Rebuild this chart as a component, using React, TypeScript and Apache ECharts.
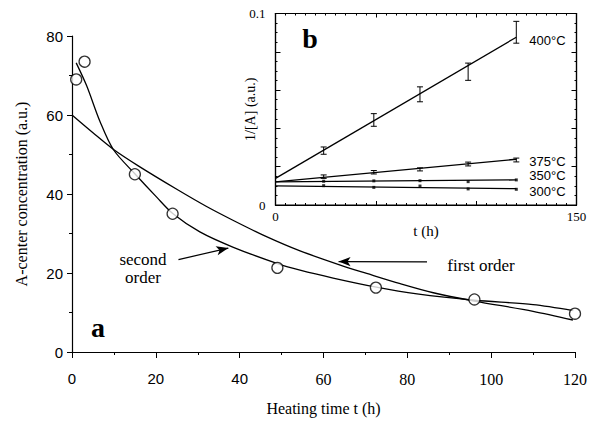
import React, { useEffect, useRef } from "react";
import * as echarts from "echarts";

// ---- main panel (a) ----
const measuredT = [1, 3, 15, 24, 49, 72.5, 96, 120];
const measuredA = [69, 73.5, 45, 35, 21.3, 16.3, 13.3, 9.7];

const firstOrderT = [0, 5, 10, 16, 25, 32, 38.5, 46, 54.4, 64, 70.3, 78.3, 86.2, 96, 110, 119.5];
const firstOrderA = [60, 55.5, 51.2, 47, 41.2, 36.9, 33.3, 29.4, 25.6, 22.0, 19.9, 17.3, 15.0, 12.9, 10.3, 8.1];

const secondOrderT = [1, 3.5, 6.7, 9.9, 15.1, 20.2, 24.1, 30.5, 38.5, 49.2, 54.4, 62.3, 72.6, 82.3, 96, 110, 119.6];
const secondOrderA = [73.2, 67.4, 58.3, 51.2, 45, 39.2, 35.0, 30.4, 26.5, 22.3, 20.7, 18.7, 16.4, 14.7, 13.1, 12.0, 10.5];

const mainXTicks = [0, 20, 40, 60, 80, 100, 120];
const mainYTicks = [0, 20, 40, 60, 80];

// arrows (data coordinates of panel a)
const secondArrow = [[25.4, 23.4], [37.3, 26.3]];
const firstArrow = [[84.7, 22.8], [63.6, 22.9]];

// ---- inset panel (b) ----
const insetTimes = [24, 49, 72, 96, 120];
const fit400 = [[0, 0.0139], [120, 0.0876]];
const pts400 = [0.0284, 0.0444, 0.0578, 0.0696, 0.0902];
const err400 = [0.0019, 0.0033, 0.0039, 0.0045, 0.0057];
const fit375 = [[0, 0.0121], [120, 0.0239]];
const pts375 = [0.0148, 0.0171, 0.0186, 0.0214, 0.0235];
const err375 = [0.0009, 0.0009, 0.0008, 0.001, 0.001];
const fit350 = [[0, 0.0121], [120, 0.0131]];
const pts350 = [0.0124, 0.0126, 0.0127, 0.0122, 0.0131];
const fit300 = [[0, 0.01], [120, 0.0085]];
const pts300 = [0.0101, 0.0092, 0.0099, 0.0084, 0.0082];

const SERIF = "Liberation Serif";
const SANS = "Liberation Sans";

function errorBarSeries(vals: number[], errs: number[]) {
  return {
    type: "custom",
    xAxisIndex: 1,
    yAxisIndex: 1,
    data: insetTimes.map((t, i) => [t, vals[i], errs[i]]),
    encode: { x: 0, y: 1 },
    silent: true,
    z: 5,
    renderItem: (params: any, api: any) => {
      const x = api.value(0);
      const y = api.value(1);
      const e = api.value(2);
      const top = api.coord([x, y + e]);
      const bot = api.coord([x, y - e]);
      const w = 3;
      const st = { stroke: "#000", lineWidth: 1 };
      return {
        type: "group",
        children: [
          { type: "line", shape: { x1: top[0], y1: top[1], x2: bot[0], y2: bot[1] }, style: st },
          { type: "line", shape: { x1: top[0] - w, y1: top[1], x2: top[0] + w, y2: top[1] }, style: st },
          { type: "line", shape: { x1: bot[0] - w, y1: bot[1], x2: bot[0] + w, y2: bot[1] }, style: st },
        ],
      };
    },
  };
}

function fitSeries(fit: number[][], label: string, offset: number[]) {
  return {
    type: "line",
    xAxisIndex: 1,
    yAxisIndex: 1,
    data: fit,
    symbol: "none",
    lineStyle: { color: "#000", width: 1.3 },
    silent: true,
    endLabel: {
      show: true,
      formatter: label,
      fontFamily: SANS,
      fontSize: 13,
      color: "#000",
      distance: 13,
      offset,
    },
  };
}

function dotSeries(vals: number[]) {
  return {
    type: "scatter",
    xAxisIndex: 1,
    yAxisIndex: 1,
    data: insetTimes.map((t, i) => [t, vals[i]]),
    symbol: "rect",
    symbolSize: 3,
    itemStyle: { color: "#000" },
    silent: true,
  };
}

export default function App() {
  const ref = useRef<HTMLDivElement>(null);
  useEffect(() => {
    if (!ref.current) return;
    const chart = echarts.init(ref.current, null, { renderer: "svg" });
    const axisBlack = { lineStyle: { color: "#000", width: 1.2 } };
    chart.setOption({
      animation: false,
      backgroundColor: "#fff",
      grid: [
        { left: 72, right: 27, top: 36, bottom: 64 },
        { left: 275.5, right: 25.5, top: 13.5, bottom: 216, show: true, borderColor: "#000", borderWidth: 1.2, backgroundColor: "rgba(255,255,255,0)" },
      ],
      xAxis: [
        {
          gridIndex: 0,
          type: "value",
          min: mainXTicks[0],
          max: mainXTicks[mainXTicks.length - 1],
          interval: 20,
          axisLine: { onZero: false, ...axisBlack },
          axisTick: { show: true, length: 6, lineStyle: { color: "#000" } },
          minorTick: { show: true, splitNumber: 2, length: 3, lineStyle: { color: "#000" } },
          splitLine: { show: false },
          axisLabel: {
            margin: 19,
            color: "#000",
            formatter: (v: number) => (v >= 60 ? `{s|${v}}` : `{n|${v}}`),
            rich: {
              s: { fontFamily: SERIF, fontSize: 16, color: "#000" },
              n: { fontFamily: SANS, fontSize: 15, color: "#000" },
            },
          },
          name: "Heating time t (h)",
          nameLocation: "middle",
          nameGap: 48,
          nameTextStyle: { fontFamily: SERIF, fontSize: 16, color: "#000" },
        },
        {
          gridIndex: 1,
          type: "value",
          min: 0,
          max: 150,
          interval: 50,
          axisLine: { onZero: false, lineStyle: { color: "#000", width: 1.2 } },
          axisTick: { show: true, inside: true, length: 4, lineStyle: { color: "#000" } },
          minorTick: { show: true, splitNumber: 10, length: 2, lineStyle: { color: "#000" } },
          splitLine: { show: false },
          axisLabel: {
            margin: 5,
            fontFamily: SERIF,
            fontSize: 13,
            color: "#000",
            formatter: (v: number) => (v === 0 || v === 150 ? String(v) : ""),
          },
          name: "t (h)",
          nameLocation: "middle",
          nameGap: 16,
          nameTextStyle: { fontFamily: SERIF, fontSize: 15, color: "#000" },
        },
        {
          gridIndex: 1,
          type: "value",
          position: "top",
          min: 0,
          max: 150,
          interval: 50,
          axisLine: { onZero: false, lineStyle: { color: "#000", width: 1.2 } },
          axisTick: { show: true, inside: true, length: 4, lineStyle: { color: "#000" } },
          minorTick: { show: true, splitNumber: 10, length: 2, lineStyle: { color: "#000" } },
          splitLine: { show: false },
          axisLabel: { show: false },
        },
      ],
      yAxis: [
        {
          gridIndex: 0,
          type: "value",
          min: mainYTicks[0],
          max: mainYTicks[mainYTicks.length - 1],
          interval: 20,
          axisLine: { show: true, onZero: false, ...axisBlack },
          axisTick: { show: true, length: 5, lineStyle: { color: "#000" } },
          minorTick: { show: true, splitNumber: 2, length: 3, lineStyle: { color: "#000" } },
          splitLine: { show: false },
          axisLabel: { margin: 9, fontFamily: SANS, fontSize: 15, color: "#000" },
          name: "A-center concentration (a.u.)",
          nameLocation: "middle",
          nameGap: 43,
          nameTextStyle: { fontFamily: SERIF, fontSize: 16, color: "#000" },
        },
        {
          gridIndex: 1,
          type: "value",
          min: 0,
          max: 0.1,
          interval: 0.02,
          axisLine: { show: true, onZero: false, lineStyle: { color: "#000", width: 1.2 } },
          axisTick: { show: true, inside: true, length: 5, lineStyle: { color: "#000" } },
          minorTick: { show: true, splitNumber: 4, length: 2, lineStyle: { color: "#000" } },
          splitLine: { show: false },
          axisLabel: {
            margin: 10,
            fontFamily: SERIF,
            fontSize: 13,
            color: "#000",
            formatter: (v: number) => (v === 0 ? "0" : Math.abs(v - 0.1) < 1e-9 ? "0.1" : ""),
          },
          name: "1/[A] (a.u.)",
          nameLocation: "middle",
          nameGap: 18,
          nameMoveOverlap: false,
          nameTextStyle: { fontFamily: SERIF, fontSize: 14, color: "#000" },
        },
        {
          gridIndex: 1,
          type: "value",
          position: "right",
          min: 0,
          max: 0.1,
          interval: 0.02,
          axisLine: { show: true, onZero: false, lineStyle: { color: "#000", width: 1.2 } },
          axisTick: { show: true, inside: true, length: 5, lineStyle: { color: "#000" } },
          minorTick: { show: true, splitNumber: 4, length: 2, lineStyle: { color: "#000" } },
          splitLine: { show: false },
          axisLabel: { show: false },
        },
      ],
      series: [
        {
          name: "first order",
          type: "line",
          xAxisIndex: 0,
          yAxisIndex: 0,
          data: firstOrderT.map((t, i) => [t, firstOrderA[i]]),
          smooth: 0.3,
          symbol: "none",
          lineStyle: { color: "#000", width: 1.3 },
          silent: true,
          markLine: {
            silent: true,
            symbol: ["none", "arrow"],
            symbolSize: [7, 12],
            label: { show: false },
            lineStyle: { color: "#000", width: 1.2, type: "solid" },
            data: [
              [{ coord: secondArrow[0] }, { coord: secondArrow[1] }],
              [{ coord: firstArrow[0] }, { coord: firstArrow[1] }],
            ],
          },
        },
        {
          name: "second order",
          type: "line",
          xAxisIndex: 0,
          yAxisIndex: 0,
          data: secondOrderT.map((t, i) => [t, secondOrderA[i]]),
          smooth: 0.3,
          symbol: "none",
          lineStyle: { color: "#000", width: 1.3 },
          silent: true,
        },
        {
          name: "measured",
          type: "scatter",
          xAxisIndex: 0,
          yAxisIndex: 0,
          data: measuredT.map((t, i) => [t, measuredA[i]]),
          symbol: "circle",
          symbolSize: 11,
          itemStyle: { color: "#fff", borderColor: "#000", borderWidth: 1.3 },
          z: 10,
          silent: true,
        },
        fitSeries(fit400, "400°C", [0, 3]),
        fitSeries(fit375, "375°C", [0, 2]),
        fitSeries(fit350, "350°C", [0, -4]),
        fitSeries(fit300, "300°C", [0, 3]),
        errorBarSeries(pts400, err400),
        errorBarSeries(pts375, err375),
        dotSeries(pts350),
        dotSeries(pts300),
      ],
      graphic: [
        { type: "text", x: 98, y: 327, style: { text: "a", font: `bold 28px "${SERIF}"`, fill: "#000", textAlign: "center", textVerticalAlign: "middle" } },
        { type: "text", x: 310, y: 38, style: { text: "b", font: `bold 28px "${SERIF}"`, fill: "#000", textAlign: "center", textVerticalAlign: "middle" } },
        { type: "text", x: 143, y: 259.5, style: { text: "second", font: `17px "${SERIF}"`, fill: "#000", textAlign: "center", textVerticalAlign: "middle" } },
        { type: "text", x: 143, y: 277.5, style: { text: "order", font: `17px "${SERIF}"`, fill: "#000", textAlign: "center", textVerticalAlign: "middle" } },
        { type: "text", x: 481, y: 265, style: { text: "first order", font: `17px "${SERIF}"`, fill: "#000", textAlign: "center", textVerticalAlign: "middle" } },
      ],
    });
    return () => chart.dispose();
  }, []);
  return <div ref={ref} style={{ position: "fixed", left: 0, top: 0, width: 602, height: 421, background: "#fff" }} />;
}
